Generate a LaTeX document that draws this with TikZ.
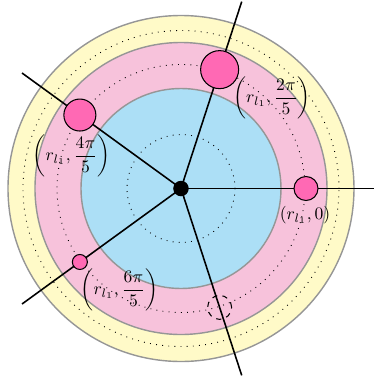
\documentclass[tikz,border=0pt]{standalone}
\usepackage{amsmath}
\definecolor{ringyellow}{RGB}{255,250,200}
\definecolor{ringpink}{RGB}{247,194,219}
\definecolor{ringblue}{RGB}{172,223,246}
\definecolor{ringgray}{RGB}{150,150,150}
\definecolor{nodepink}{RGB}{255,105,180}
\begin{document}
\begin{tikzpicture}[
  ring/.style={draw=ringgray, line width=0.8pt},
  dotring/.style={draw=black, line width=0.5pt, dash pattern=on 0.5pt off 3pt},
  ray/.style={draw=black, line width=0.9pt},
  pnode/.style={circle, draw=black, line width=0.6pt, fill=nodepink, inner sep=0pt},
  ghost/.style={circle, draw=black, line width=0.6pt, dashed, inner sep=0pt},
  lab/.style={inner sep=0pt}
]
\useasboundingbox (-3.62,-3.75) rectangle (3.86,3.77);
\clip (-3.62,-3.75) rectangle (3.86,3.77);
\filldraw[ring, fill=ringyellow] (0,0) circle (3.46);
\filldraw[ring, fill=ringpink] (0,0) circle (2.92);
\filldraw[ring, fill=ringblue] (0,0) circle (2.0);
\draw[dotring] (0,0) circle (3.16);
\draw[dotring] (0,0) circle (2.48);
\draw[dotring] (0,0) circle (1.08);
\node[circle, fill=black, inner sep=0pt, minimum size=0.31cm] (c) at (0,0) {};
\coordinate (e0) at (0:3.93);
\coordinate (e1) at (72:3.93);
\coordinate (e2) at (144:3.93);
\coordinate (e3) at (216:3.93);
\coordinate (e4) at (288:3.93);
\foreach \i in {0,...,4} { \draw[ray] (c.center) -- (e\i); }
\node[pnode, minimum size=0.48cm] (n0) at (0:2.5) {};
\node[pnode, minimum size=0.76cm] (n1) at (72:2.5) {};
\node[pnode, minimum size=0.64cm] (n2) at (144:2.5) {};
\node[pnode, minimum size=0.30cm] (n3) at (216:2.5) {};
\node[ghost, minimum size=0.48cm] (n4) at (288:2.5) {};
\node[lab] (l0) at (2.48,-0.53) {$(r_{l_1},0)$};
\node[lab] (l1) at (1.82,1.81) {$\left(r_{l_1},\dfrac{2\pi}{5}\right)$};
\node[lab] (l2) at (-2.19,0.65) {$\left(r_{l_1},\dfrac{4\pi}{5}\right)$};
\node[lab] (l3) at (-1.23,-2.03) {$\left(r_{l_1},\dfrac{6\pi}{5}\right)$};
\end{tikzpicture}
\end{document}
